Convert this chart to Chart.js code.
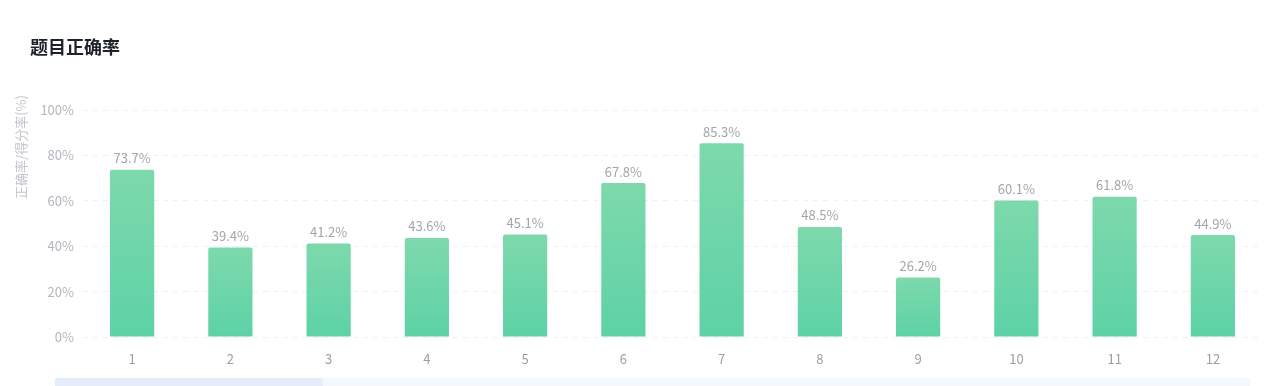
<!DOCTYPE html>
<html>
<head>
<meta charset="utf-8">
<script src="https://cdn.jsdelivr.net/npm/chart.js@4/dist/chart.umd.min.js"></script>
<style>
  html, body { margin: 0; padding: 0; background: #fff; }
  #wrap { position: relative; width: 1269px; height: 386px; overflow: hidden; font-family: "Noto Sans CJK SC", "Noto Sans", sans-serif; }
  #title { position: absolute; left: 30px; top: 33px; font-size: 18px; font-weight: bold; color: #1d2129; }
  #chart { position: absolute; left: 0; top: 0; }
  #track { position: absolute; left: 55px; top: 378px; width: 1195px; height: 10px; background: #f4f8fd; }
  #thumb { position: absolute; left: 55px; top: 378px; width: 268px; height: 10px; background: #e4edf9; }
</style>
</head>
<body>
<div id="wrap">
  <canvas id="chart" width="1269" height="386"></canvas>
  <div id="title">题目正确率</div>
  <div id="track"></div>
  <div id="thumb"></div>
</div>
<script>
const categories = ["1", "2", "3", "4", "5", "6", "7", "8", "9", "10", "11", "12"];
const rates = [73.7, 39.4, 41.2, 43.6, 45.1, 67.8, 85.3, 48.5, 26.2, 60.1, 61.8, 44.9];
const yTicks = [0, 20, 40, 60, 80, 100];
const yTitle = "正确率/得分率(%)";

const FONT = "'Noto Sans CJK SC', 'Noto Sans', sans-serif";

// gradient for each bar, from its own top to the axis
function barColor(ctx) {
  const chart = ctx.chart;
  const y = chart.scales && chart.scales.y;
  if (!chart.chartArea || !y || ctx.raw == null) return "#6dd6aa";
  const top = y.getPixelForValue(ctx.raw);
  const bottom = y.getPixelForValue(0);
  const g = chart.ctx.createLinearGradient(0, top, 0, bottom);
  g.addColorStop(0, "#7dd9ac");
  g.addColorStop(1, "#5dd2a6");
  return g;
}

const valueLabels = {
  id: "valueLabels",
  afterDatasetsDraw(chart) {
    const c = chart.ctx;
    const meta = chart.getDatasetMeta(0);
    c.save();
    c.font = "13px " + FONT;
    c.fillStyle = "#a2a5ab";
    c.textAlign = "center";
    c.textBaseline = "bottom";
    meta.data.forEach((bar, i) => {
      c.fillText(rates[i].toFixed(1) + "%", bar.x, bar.y - 5);
    });
    c.restore();
  }
};

const axisTitle = {
  id: "axisTitle",
  afterDraw(chart) {
    const c = chart.ctx;
    c.save();
    c.font = "13px " + FONT;
    c.fillStyle = "#c2c5cc";
    c.translate(21, 147);
    c.rotate(-Math.PI / 2);
    c.textAlign = "center";
    c.textBaseline = "middle";
    c.fillText(yTitle, 0, 0);
    c.restore();
  }
};

new Chart(document.getElementById("chart"), {
  type: "bar",
  data: {
    labels: categories,
    datasets: [{
      data: rates,
      backgroundColor: barColor,
      borderRadius: { topLeft: 2, topRight: 2 },
      borderSkipped: "bottom",
      barPercentage: 0.45,
      categoryPercentage: 1
    }]
  },
  options: {
    responsive: false,
    animation: false,
    layout: { padding: { top: 110, right: 7, bottom: 19, left: 0 } },
    plugins: { legend: { display: false }, tooltip: { enabled: false } },
    scales: {
      x: {
        grid: { display: false },
        border: { display: false },
        ticks: { color: "#9b9ea6", font: { size: 13, family: FONT }, padding: 6 },
        afterFit(scale) { scale.height = 30; }
      },
      y: {
        min: 0,
        max: 100,
        afterBuildTicks(scale) { scale.ticks = yTicks.map(v => ({ value: v })); },
        afterFit(scale) { scale.width = 83; },
        grid: { color: "#eef0f3", drawTicks: false },
        border: { display: false, dash: [5, 5] },
        ticks: {
          color: "#b3b6bd",
          font: { size: 13, family: FONT },
          padding: 9,
          callback: v => v + "%"
        }
      }
    }
  },
  plugins: [valueLabels, axisTitle]
});
</script>
</body>
</html>
